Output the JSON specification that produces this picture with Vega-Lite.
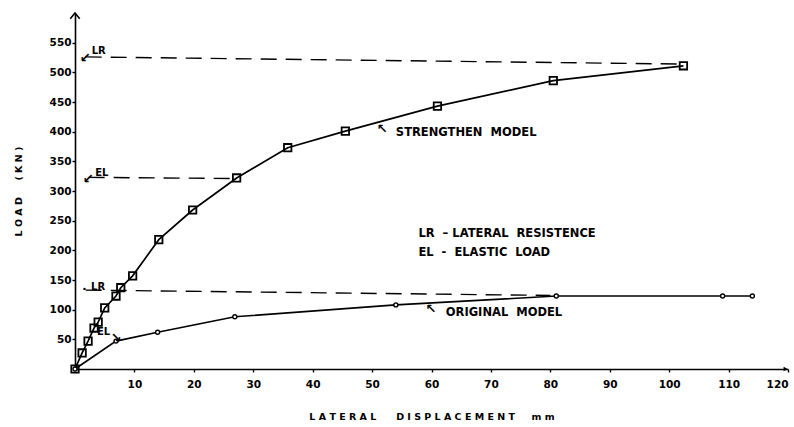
{
  "$schema": "https://vega.github.io/schema/vega-lite/v6.json",
  "width": 713,
  "height": 356,
  "autosize": {"type": "none"},
  "padding": {"left": 75, "top": 13, "right": 6, "bottom": 58},
  "background": "white",
  "config": {
    "view": {"stroke": null},
    "font": "DejaVu Sans",
    "axis": {
      "grid": false,
      "domainColor": "#000",
      "domainWidth": 1.6,
      "tickColor": "#000",
      "tickWidth": 1.4,
      "tickSize": 3,
      "labelColor": "#000",
      "titleColor": "#000",
      "labelFont": "DejaVu Sans",
      "labelFontWeight": "bold",
      "labelFontSize": 10.5,
      "titleFont": "DejaVu Sans",
      "titleFontWeight": "bold",
      "titleFontSize": 9.5
    }
  },
  "encoding": {
    "x": {
      "field": "x",
      "type": "quantitative",
      "scale": {"domain": [0, 120], "nice": false, "zero": false},
      "axis": {
        "values": [10, 20, 30, 40, 50, 60, 70, 80, 90, 100, 110, 120],
        "labelPadding": 7,
        "titlePadding": 22,
        "title": "L A T E R A L\u00a0\u00a0\u00a0\u00a0\u00a0 D I S P L A C E M E N T\u00a0\u00a0\u00a0\u00a0 m m"
      }
    },
    "y": {
      "field": "y",
      "type": "quantitative",
      "scale": {"domain": [0, 600], "nice": false, "zero": false},
      "axis": {
        "values": [50, 100, 150, 200, 250, 300, 350, 400, 450, 500, 550],
        "labelPadding": 1,
        "titlePadding": 26,
        "title": "L O A D\u00a0\u00a0\u00a0\u00a0 ( K N )"
      }
    }
  },
  "layer": [
    {
      "data": {"values": [
        {"seg": "LR upper", "x": 1.8, "y": 526},
        {"seg": "LR upper", "x": 102, "y": 514},
        {"seg": "EL upper", "x": 2.3, "y": 323},
        {"seg": "EL upper", "x": 27, "y": 321},
        {"seg": "LR lower", "x": 1.8, "y": 133},
        {"seg": "LR lower", "x": 80, "y": 124}
      ]},
      "mark": {"type": "line", "color": "#000", "strokeWidth": 1.4, "strokeDash": [16, 9]},
      "encoding": {"detail": {"field": "seg"}}
    },
    {
      "data": {"values": [
        {"x": 0, "y": 0}, {"x": 1.2, "y": 27}, {"x": 2.2, "y": 47}, {"x": 3.2, "y": 69},
        {"x": 3.9, "y": 79}, {"x": 5, "y": 103}, {"x": 6.9, "y": 123}, {"x": 7.7, "y": 137},
        {"x": 9.7, "y": 157}, {"x": 14.1, "y": 218}, {"x": 19.8, "y": 268}, {"x": 27.2, "y": 322},
        {"x": 35.8, "y": 373}, {"x": 45.5, "y": 401}, {"x": 61, "y": 443}, {"x": 80.5, "y": 486},
        {"x": 102.4, "y": 511}
      ]},
      "layer": [
        {"mark": {"type": "line", "color": "#000", "strokeWidth": 1.7}, "encoding": {}},
        {"mark": {"type": "point", "shape": "square", "filled": false, "color": "#000", "size": 55, "strokeWidth": 1.8, "opacity": 1}, "encoding": {}}
      ]
    },
    {
      "data": {"values": [
        {"x": 0, "y": 0}, {"x": 6.9, "y": 47}, {"x": 13.9, "y": 62}, {"x": 26.9, "y": 88},
        {"x": 54, "y": 108}, {"x": 81, "y": 123}, {"x": 109, "y": 123}, {"x": 114, "y": 123}
      ]},
      "layer": [
        {"mark": {"type": "line", "color": "#000", "strokeWidth": 1.6}, "encoding": {}},
        {"mark": {"type": "point", "shape": "circle", "filled": true, "fill": "white", "stroke": "#000", "size": 16, "strokeWidth": 1.4, "opacity": 1}, "encoding": {}}
      ]
    },
    {
      "data": {"values": [
        {"x": 2.8, "y": 536, "t": "LR"},
        {"x": 3.4, "y": 331, "t": "EL"},
        {"x": 2.7, "y": 139, "t": "LR"},
        {"x": 3.7, "y": 62, "t": "EL"}
      ]},
      "mark": {"type": "text", "align": "left", "baseline": "middle", "fontSize": 10, "fontWeight": "bold", "font": "DejaVu Sans", "color": "#000"},
      "encoding": {"text": {"field": "t"}}
    },
    {
      "data": {"values": [
        {"x": 0.8, "y": 524, "t": "↙"},
        {"x": 1.3, "y": 321, "t": "↙"},
        {"x": 6.0, "y": 53, "t": "↘"},
        {"x": 50.8, "y": 404, "t": "↖"},
        {"x": 59.0, "y": 101, "t": "↖"}
      ]},
      "mark": {"type": "text", "align": "left", "baseline": "middle", "fontSize": 13, "fontWeight": "bold", "font": "DejaVu Sans", "color": "#000"},
      "encoding": {"text": {"field": "t"}}
    },
    {
      "data": {"values": [{"x": 1.6, "y": 135}]},
      "mark": {"type": "point", "shape": "circle", "filled": true, "color": "#000", "size": 6, "opacity": 1},
      "encoding": {}
    },
    {
      "data": {"values": [
        {"x": 54, "y": 398, "t": "STRENGTHEN\u00a0\u00a0MODEL"},
        {"x": 62.4, "y": 94, "t": "ORIGINAL\u00a0\u00a0MODEL"},
        {"x": 57.8, "y": 228, "t": "LR\u00a0\u00a0–\u00a0LATERAL\u00a0\u00a0RESISTENCE"},
        {"x": 57.8, "y": 196, "t": "EL\u00a0\u00a0-\u00a0\u00a0ELASTIC\u00a0\u00a0LOAD"}
      ]},
      "mark": {"type": "text", "align": "left", "baseline": "middle", "fontSize": 11.5, "fontWeight": "bold", "font": "DejaVu Sans", "color": "#000"},
      "encoding": {"text": {"field": "t"}}
    },
    {
      "data": {"values": [{"x": 0, "y": 596}]},
      "mark": {"type": "point", "shape": "M-1,0.7L0,-0.5L1,0.7", "filled": false, "color": "#000", "size": 90, "strokeWidth": 1.6, "opacity": 1},
      "encoding": {}
    },
    {
      "data": {"values": [{"x": 119.6, "y": 0}]},
      "mark": {"type": "point", "shape": "triangle-right", "filled": true, "color": "#000", "size": 22, "opacity": 1},
      "encoding": {}
    }
  ]
}
